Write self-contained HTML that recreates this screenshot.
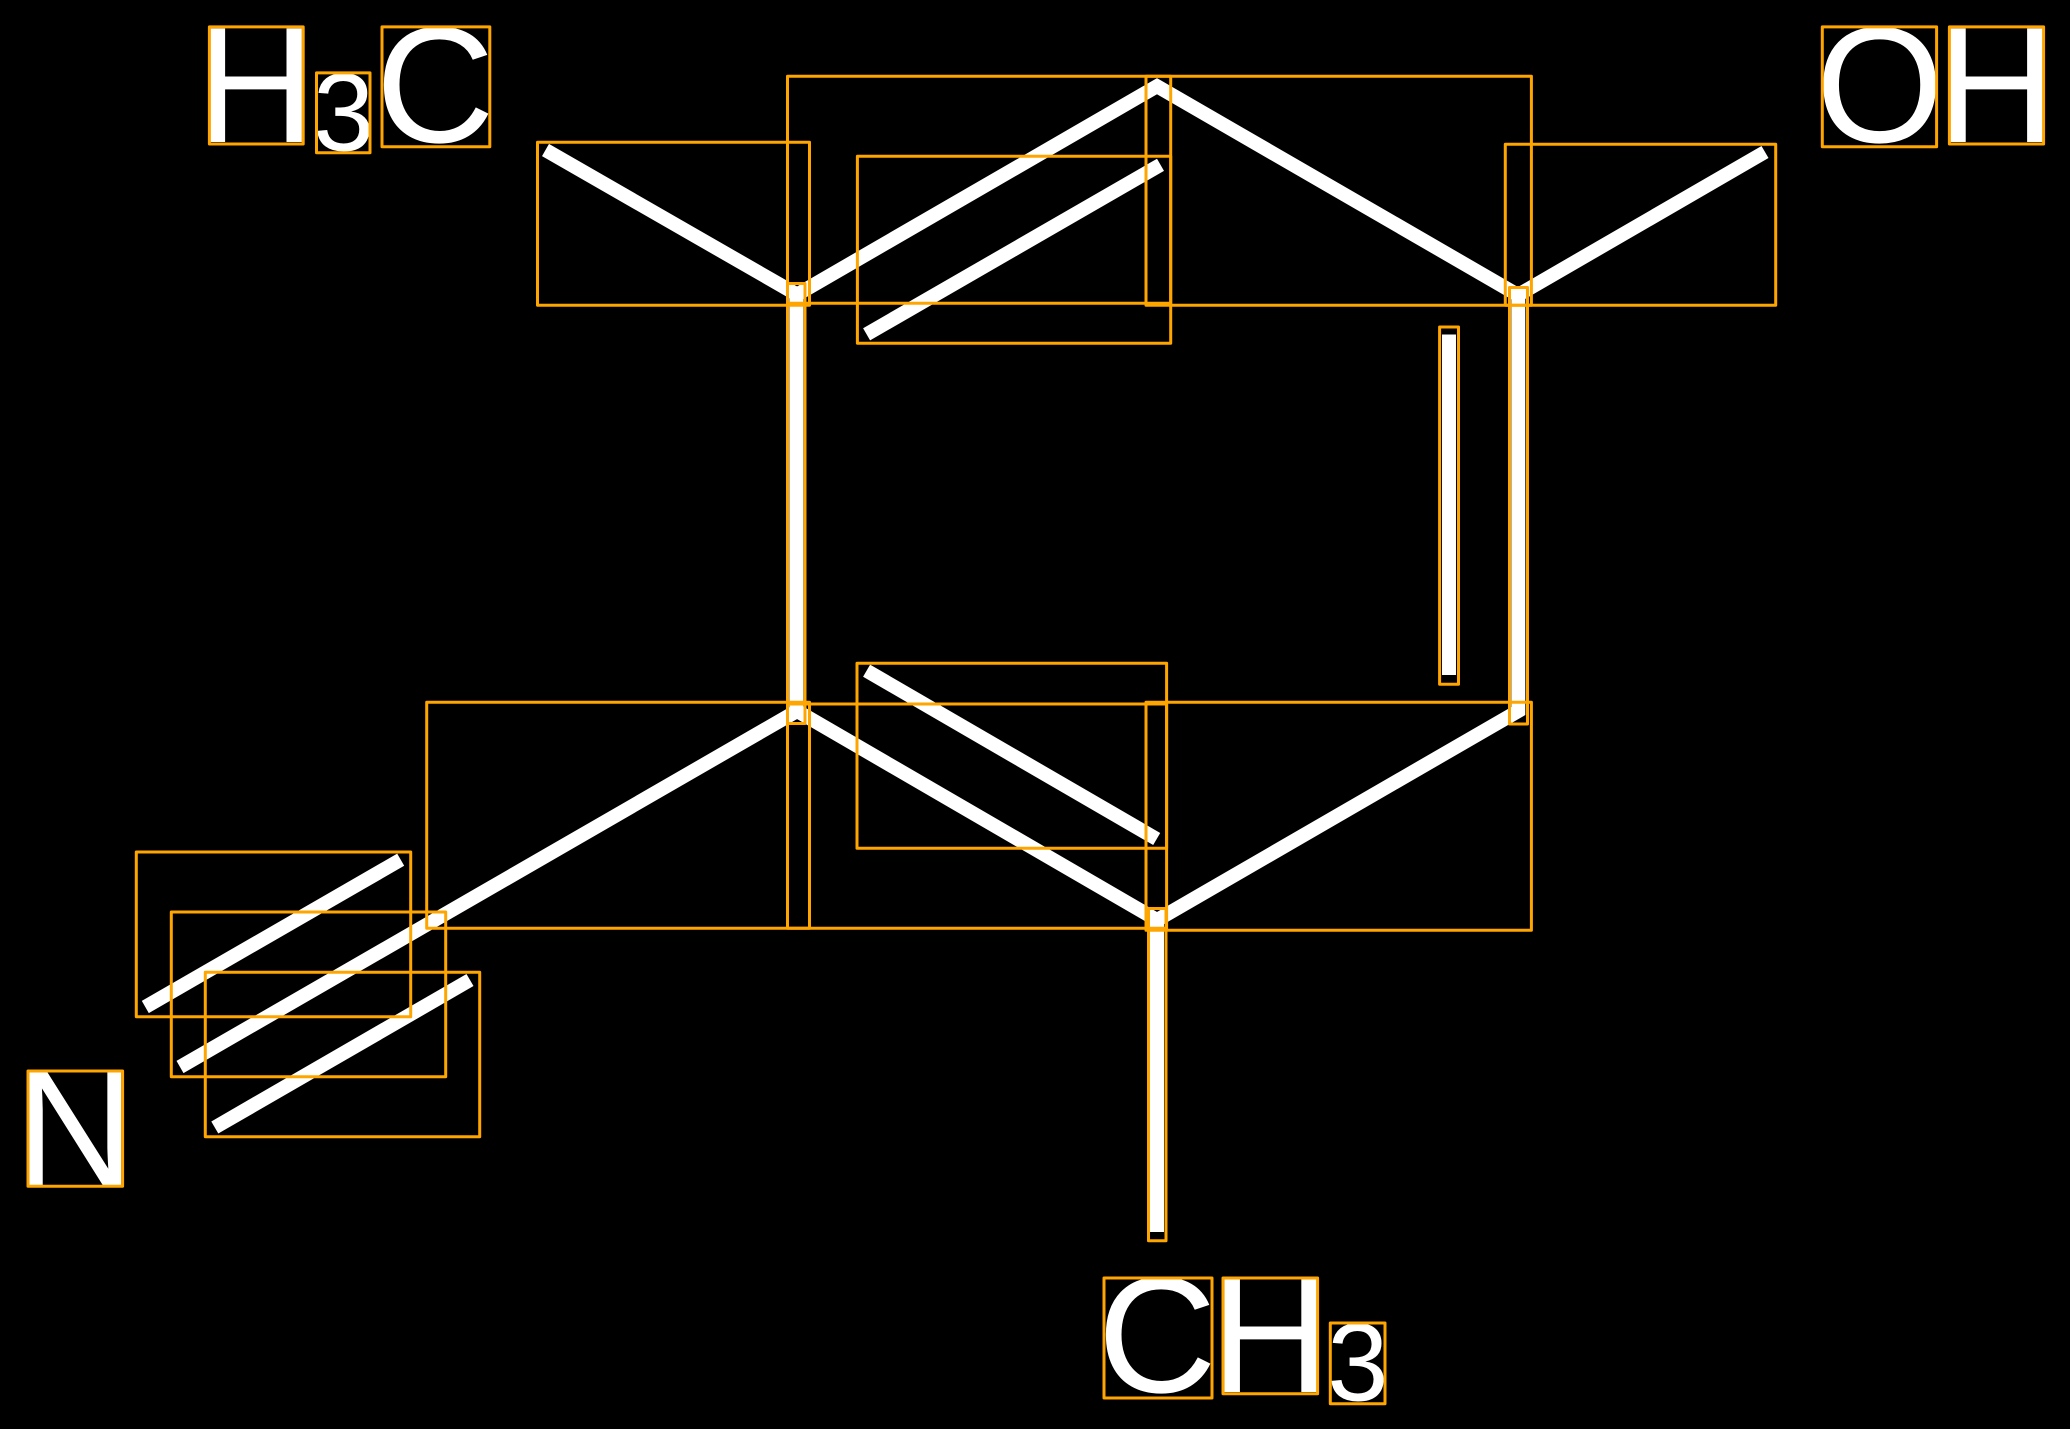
<!DOCTYPE html>
<html>
<head>
<meta charset="utf-8">
<style>
html,body{margin:0;padding:0;background:#fff;width:2071px;height:1430px;overflow:hidden}
svg{display:block;position:absolute;left:0;top:0}
text{font-family:"Liberation Sans",sans-serif;fill:#fff}
.b{font-size:165px}
.s{font-size:110px}
</style>
</head>
<body>
<svg width="2071" height="1430" viewBox="0 0 2071 1430" xmlns="http://www.w3.org/2000/svg">
<rect x="0" y="0" width="2070" height="1429" fill="#000"/>
<g fill="none" stroke="#fff" stroke-width="14" stroke-linejoin="miter" stroke-miterlimit="10">
<polyline points="545.5,150 797,294.5 1157,86.2 1518,295 1765,152"/>
<polyline points="180,1067 797,711 1157,920 1518.3,711 1518.3,290"/>
<line x1="796.3" y1="287" x2="796.3" y2="715"/>
<line x1="1157" y1="912" x2="1157" y2="1232"/>
<line x1="1449" y1="334.5" x2="1449" y2="675"/>
<line x1="866.6" y1="334.3" x2="1160.5" y2="164.8"/>
<line x1="866.6" y1="670.7" x2="1156.7" y2="839"/>
<line x1="145.3" y1="1007" x2="400.7" y2="859.7"/>
<line x1="214.8" y1="1127.5" x2="470" y2="980"/>
</g>
<text class="b" x="196.2" y="142">H</text>
<text class="s" x="313" y="150.5">3</text>
<text class="b" x="375.5" y="142">C</text>
<text class="b" x="1815.5" y="142">O</text>
<text class="b" x="1936.8" y="142">H</text>
<text class="b" x="15.5" y="1185">N</text>
<text class="b" x="1097.5" y="1392">C</text>
<text class="b" x="1211" y="1392">H</text>
<text class="s" x="1327.2" y="1400.5">3</text>
<g fill="none" stroke="#ffa500" stroke-width="3" stroke-linejoin="round">
<rect x="209.4" y="26.9" width="93.8" height="117.1"/>
<rect x="316.5" y="72.9" width="53.5" height="79.8"/>
<rect x="382" y="26.9" width="107.8" height="119.8"/>
<rect x="1822.3" y="26.9" width="114.3" height="119.8"/>
<rect x="1949.4" y="26.9" width="94.2" height="117.1"/>
<rect x="28" y="1071" width="94.6" height="115.3"/>
<rect x="1104" y="1278" width="108" height="120"/>
<rect x="1223" y="1278" width="94.6" height="115.7"/>
<rect x="1330.3" y="1323" width="54.7" height="80.7"/>
<rect x="537.5" y="142.2" width="272" height="163.1"/>
<rect x="1505.3" y="144.2" width="270.4" height="161.1"/>
<rect x="787.5" y="76.3" width="383.2" height="227"/>
<rect x="1146" y="76.3" width="385.4" height="229"/>
<rect x="857.4" y="156.3" width="313.3" height="187"/>
<rect x="787.5" y="283.5" width="17.5" height="440"/>
<rect x="1509.5" y="287.5" width="18" height="436.5"/>
<rect x="1439.6" y="327" width="18.9" height="357.3"/>
<rect x="426.7" y="702.3" width="382.8" height="226"/>
<rect x="787.5" y="704" width="379.1" height="224.3"/>
<rect x="1146" y="702.3" width="385.4" height="228"/>
<rect x="857" y="663.3" width="309.6" height="185"/>
<rect x="1148.5" y="908.5" width="17.5" height="332.2"/>
<rect x="136.3" y="852" width="274.4" height="164.7"/>
<rect x="171.3" y="912" width="274.4" height="164.7"/>
<rect x="205.3" y="972.3" width="274.4" height="164.4"/>
</g>
</svg>
</body>
</html>
